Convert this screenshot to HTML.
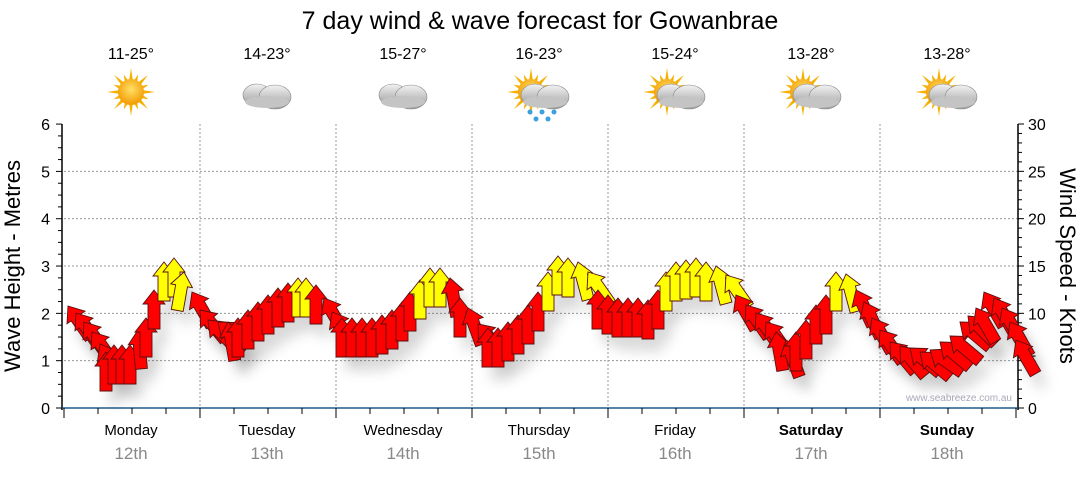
<!DOCTYPE html>
<html><head><meta charset="utf-8"><style>
body{margin:0;background:#fff;width:1080px;height:475px;overflow:hidden;font-family:"Liberation Sans",sans-serif}
</style></head><body>
<svg id="s" width="1080" height="475" xmlns="http://www.w3.org/2000/svg" font-family="Liberation Sans, sans-serif">
<defs>
<radialGradient id="sun" cx="50%" cy="40%" r="60%"><stop offset="0" stop-color="#ffe066"/><stop offset="1" stop-color="#f29a00"/></radialGradient>
<linearGradient id="cl" x1="0" y1="0" x2="0" y2="1"><stop offset="0" stop-color="#f2f2f2"/><stop offset="1" stop-color="#9a9a9a"/></linearGradient>
<filter id="sh" x="-50%" y="-50%" width="200%" height="200%"><feGaussianBlur stdDeviation="6"/></filter>
</defs>
<text x="540" y="29" font-size="25" text-anchor="middle" fill="#000">7 day wind &amp; wave forecast for Gowanbrae</text>
<g id="g"></g>
</svg>
<script>
var g=document.getElementById('g'),h='';
function Y(m){return 408-m*47.33;}
for(var i=1;i<=5;i++){h+='<line x1="64" x2="1018" y1="'+Y(i)+'" y2="'+Y(i)+'" stroke="#999" stroke-dasharray="2,2"/>';}
for(var d=1;d<7;d++){var x=64+136*d;h+='<line x1="'+x+'" x2="'+x+'" y1="124" y2="408" stroke="#999" stroke-dasharray="2,2"/>';}
h+='<line x1="62" x2="62" y1="124" y2="410" stroke="#000" stroke-width="1.5"/>';
h+='<line x1="1018" x2="1018" y1="124" y2="410" stroke="#000" stroke-width="1.5"/>';
h+='<line x1="62" x2="1018" y1="408" y2="408" stroke="#1f5a8a" stroke-width="1.5"/>';
for(var i=0;i<=24;i++){var y=408-i*11.83,l=(i%4==0)?6:4;h+='<line x1="'+(62-l)+'" x2="62" y1="'+y+'" y2="'+y+'" stroke="#000"/>';}
for(var i=0;i<=30;i++){var y=408-i*9.467,l=(i%5==0)?6:4;h+='<line x1="1018" x2="'+(1018+l)+'" y1="'+y+'" y2="'+y+'" stroke="#000"/>';}
for(var i=0;i<=28;i++){var x=64+i*34,l=(i%4==0)?10:6;h+='<line x1="'+x+'" x2="'+x+'" y1="408" y2="'+(408+l)+'" stroke="#000"/>';}
for(var i=0;i<=6;i++){h+='<text x="50" y="'+(Y(i)+6)+'" font-size="16" text-anchor="end">'+i+'</text>';
h+='<text x="1028" y="'+(Y(i)+6)+'" font-size="16">'+(i*5)+'</text>';}
h+='<text transform="translate(20,266) rotate(-90)" font-size="22" text-anchor="middle">Wave Height - Metres</text>';
h+='<text transform="translate(1060,266) rotate(90)" font-size="22" text-anchor="middle">Wind Speed - Knots</text>';
h+='<text x="1012" y="401" font-size="10" fill="#aab" text-anchor="end">www.seabreeze.com.au</text>';
var days=['Monday','Tuesday','Wednesday','Thursday','Friday','Saturday','Sunday'],dt=['12th','13th','14th','15th','16th','17th','18th'],
tp=['11-25°','14-23°','15-27°','16-23°','15-24°','13-28°','13-28°'];
for(var d=0;d<7;d++){var cx=131+136*d;
h+='<text x="'+cx+'" y="435" font-size="15" text-anchor="middle"'+(d>=5?' font-weight="bold"':'')+'>'+days[d]+'</text>';
h+='<text x="'+cx+'" y="459" font-size="17" fill="#888" text-anchor="middle">'+dt[d]+'</text>';
h+='<text x="'+cx+'" y="59" font-size="16" text-anchor="middle">'+tp[d]+'</text>';
var sx=(d==0)?cx:cx-8,sy=92,hasSun=(d!=1&&d!=2);
if(hasSun){for(var k=0;k<16;k++){var a=k*Math.PI/8,r2=(k%2?19:24);h+='<polygon points="'+(sx+Math.cos(a-0.18)*11)+','+(sy+Math.sin(a-0.18)*11)+' '+(sx+Math.cos(a)*r2)+','+(sy+Math.sin(a)*r2)+' '+(sx+Math.cos(a+0.18)*11)+','+(sy+Math.sin(a+0.18)*11)+'" fill="#f5b000"/>';}
h+='<circle cx="'+sx+'" cy="'+sy+'" r="13" fill="url(#sun)"/>';}
if(d>0){var ox=(d==1||d==2)?cx-2:cx+4,oy=95;
h+='<g fill="url(#cl)" stroke="#888" stroke-width="0.6"><ellipse cx="'+(ox-8)+'" cy="'+oy+'" rx="14" ry="11"/><ellipse cx="'+(ox+10)+'" cy="'+(oy+2)+'" rx="16" ry="12"/></g>';
h+='<ellipse cx="'+(ox+2)+'" cy="'+(oy+7)+'" rx="22" ry="6" fill="#c4c4c4"/>';}
if(d==3){for(var k=0;k<5;k++){h+='<circle cx="'+(cx-9+k*6)+'" cy="'+(112+(k%2)*7)+'" r="2.5" fill="#3aa0e0"/>';}}
}
var pts=[[62,306,-35],[70,313,-35],[78,322,-35],[86,332,-35],[94,344,-30],[100,352,0],[108,345,0],[116,345,0],[124,345,0],[132,330,-5],[140,318,0],[148,290,0],[158,262,0],[168,258,0],[178,272,10],[186,292,-30],[194,310,-40],[202,320,-45],[212,322,-50],[222,322,-10],[232,318,0],[242,310,0],[252,302,0],[262,295,0],[272,288,0],[282,283,0],[292,278,0],[300,278,0],[310,285,0],[318,298,-30],[326,312,-30],[336,318,0],[346,318,0],[356,318,0],[366,318,0],[376,315,0],[386,310,0],[396,302,0],[404,292,0],[414,280,0],[424,268,0],[434,268,0],[444,278,-10],[454,298,0],[462,308,-20],[472,324,-40],[482,328,0],[492,328,0],[502,322,0],[512,315,0],[522,305,0],[532,292,0],[542,272,0],[552,256,0],[562,258,0],[572,262,-15],[582,272,-35],[592,290,0],[602,295,0],[612,298,0],[622,298,0],[632,298,0],[642,300,0],[652,290,0],[660,272,0],[670,262,0],[680,260,0],[690,258,0],[700,262,0],[710,266,-15],[720,275,-35],[730,295,-30],[740,305,-35],[750,313,-35],[760,322,-35],[770,332,-10],[780,340,-20],[790,332,0],[800,320,0],[810,305,0],[820,295,0],[830,272,0],[840,274,-15],[850,290,-25],[858,302,-25],[866,318,-30],[874,330,-35],[884,342,-40],[894,346,-40],[904,348,-50],[914,352,-50],[924,350,-55],[934,342,-50],[944,336,-50],[954,322,-50],[962,316,-45],[970,308,-30],[978,292,-30],[988,298,-30],[996,308,-30],[1004,322,-30],[1010,340,-30]];
var sh='',ar='';
pts.forEach(function(p){var x=p[0]+6,y=p[1],a=p[2];var yel=(y<283&&!(x>440&&x<470&&a<0));
var c=yel?'#ffff00':'#ff0000';
var path='M0,0 L11,14 L6,14 L6,39 L-6,39 L-6,14 L-11,14 Z';
sh+='<path d="'+path+'" transform="translate('+(x+8)+','+(y+14)+') rotate('+a+')" fill="#000" opacity="0.12"/>';
ar+='<path d="'+path+'" transform="translate('+x+','+y+') rotate('+a+')" fill="'+c+'" stroke="#5a1010" stroke-width="0.9"/>';});
h+='<g filter="url(#sh)">'+sh+'</g>'+ar;
g.innerHTML=h;
</script>
</body></html>
